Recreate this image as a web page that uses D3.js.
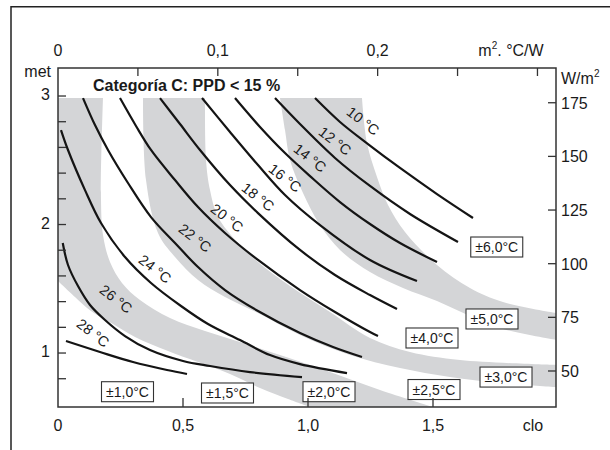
<!DOCTYPE html>
<html><head><meta charset="utf-8">
<script src="https://cdn.jsdelivr.net/npm/d3@7"></script>
<style>
body{margin:0;background:#fff}
svg{display:block}
text{font-family:"Liberation Sans",Arial,Helvetica,sans-serif;fill:#1a1a1a}
</style>
</head><body>
<svg id="chart" width="610" height="450"></svg>
<script>
// ---------------- data (clo, met) ----------------
const title = "Categoría C: PPD < 15 %";
const temps = [10, 12, 14, 16, 18, 20, 22, 24, 26, 28];
const c10 = [[1.028,2.984],[1.128,2.798],[1.24,2.626],[1.368,2.44],[1.516,2.237],[1.66,2.051]];
const c12 = [[0.868,2.984],[0.968,2.782],[1.108,2.518],[1.248,2.30],[1.408,2.082],[1.6,1.864]];
const c14 = [[0.708,2.984],[0.808,2.759],[0.908,2.556],[1.008,2.377],[1.128,2.175],[1.248,2.004],[1.368,1.856],[1.516,1.708]];
const c16 = [[0.576,2.984],[0.688,2.72],[0.8,2.463],[0.908,2.23],[1.048,1.996],[1.248,1.724],[1.436,1.56]];
const c18 = [[0.408,2.984],[0.488,2.782],[0.568,2.58],[0.688,2.307],[0.8,2.089],[0.968,1.802],[1.108,1.607],[1.248,1.451],[1.356,1.342]];
const c20 = [[0.248,2.984],[0.312,2.767],[0.372,2.58],[0.468,2.346],[0.56,2.136],[0.668,1.934],[0.8,1.724],[0.968,1.49],[1.108,1.319],[1.248,1.163],[1.28,1.132]];
const c22 = [[0.1,2.984],[0.148,2.774],[0.2,2.58],[0.28,2.323],[0.372,2.058],[0.468,1.856],[0.56,1.669],[0.668,1.49],[0.8,1.327],[0.968,1.156],[1.1,1.047],[1.216,0.969]];
const c24 = [[0.012,2.735],[0.04,2.58],[0.108,2.268],[0.172,2.012],[0.268,1.747],[0.372,1.545],[0.492,1.366],[0.6,1.226],[0.728,1.101],[0.848,0.984],[0.968,0.914],[1.156,0.844]];
const c26 = [[0.019,1.856],[0.04,1.685],[0.08,1.521],[0.128,1.374],[0.188,1.257],[0.268,1.132],[0.368,1.023],[0.5,0.938],[0.608,0.899],[0.768,0.852],[0.976,0.813]];
const c28 = [[0.032,1.093],[0.168,1.008],[0.3,0.93],[0.436,0.868],[0.516,0.837]];
const curves = [c10, c12, c14, c16, c18, c20, c22, c24, c26, c28];
// curve label anchors (clo, met)
const curveLabelPos = [[1.22,2.805],[1.108,2.65],[1.008,2.518],[0.908,2.362],[0.8,2.214],[0.676,2.051],[0.548,1.895],[0.388,1.654],[0.232,1.42],[0.14,1.156]];

// shaded bands: upper-right edge and lower-left edge (clo, met)
const bandAUpper = [[0.18,2.984],[0.172,2.191],[0.18,1.918],[0.208,1.708],[0.256,1.545],[0.328,1.412],[0.448,1.272],[0.588,1.171],[0.728,1.086],[0.888,0.984],[1.088,0.852],[1.288,0.712],[1.5,0.58]];
const bandALower = [[0,1.56],[0.068,1.436],[0.132,1.327],[0.22,1.226],[0.308,1.125],[0.44,1.016],[0.56,0.93],[0.688,0.837],[0.808,0.728],[0.92,0.642],[1.008,0.58]];
const bandBUpper = [[0.588,2.984],[0.592,2.502],[0.608,2.268],[0.64,2.058],[0.72,1.856],[0.8,1.708],[0.928,1.521],[1.088,1.319],[1.248,1.117],[1.408,1.008],[1.608,0.946],[1.996,0.907]];
const bandBLower = [[0.34,2.984],[0.352,2.346],[0.4,1.934],[0.468,1.747],[0.56,1.568],[0.668,1.436],[0.8,1.311],[0.968,1.14],[1.168,0.984],[1.368,0.883],[1.568,0.813],[1.768,0.767],[1.996,0.735]];
const bandCUpper = [[1.216,2.984],[1.236,2.634],[1.276,2.37],[1.32,2.152],[1.388,1.942],[1.516,1.685],[1.648,1.506],[1.78,1.397],[1.996,1.311]];
const bandCLower = [[0.888,2.984],[0.908,2.735],[0.928,2.502],[0.98,2.245],[1.048,1.996],[1.128,1.802],[1.248,1.63],[1.38,1.506],[1.516,1.405],[1.648,1.288],[1.78,1.187],[1.996,1.101]];

// tolerance labels
const tolLabels = ["±1,0°C","±1,5°C","±2,0°C","±2,5°C","±3,0°C","±4,0°C","±5,0°C","±6,0°C"];
const tolPos = [[0.278,0.699],[0.678,0.689],[1.084,0.699],[1.504,0.716],[1.792,0.813],[1.496,1.117],[1.736,1.265],[1.755,1.825]];

// axes
const cloTicks = [0.5, 1.0, 1.5];
const cloLabels = [0, 0.5, 1.0, 1.5];
const resTicks = [0.05, 0.10, 0.15, 0.20, 0.25, 0.30];
const resLabels = [0, 0.1, 0.2];
const metTicks = [0.8, 1.0, 1.2, 1.4, 1.6, 1.8, 2.0, 2.2, 2.4, 2.6, 2.8, 3.0];
const metLabels = [1, 2, 3];
const wTicks = [50, 75, 100, 125, 150, 175];

// ---------------- drawing ----------------
const svg = d3.select("#chart");
const Lp = 58, Rp = 556, Tp = 68, Bp = 407;
const x = d3.scaleLinear().domain([0, 1.992]).range([Lp, Rp]);
const y = d3.scaleLinear().domain([0.58, 3.218]).range([Bp, Tp]);
const xTop = d3.scaleLinear().domain([0, 0.3116]).range([Lp, Rp]);
const yRight = d3.scaleLinear().domain([33.22, 191.19]).range([Bp, Tp]);
const loc = d3.formatLocale({decimal: ",", thousands: ".", grouping: [3], currency: ["", ""]});
const f1 = v => v === 0 ? "0" : loc.format(".1f")(v);

svg.append("rect").attr("width", 610).attr("height", 450).attr("fill", "#fff");
// outer border
svg.append("path").attr("d", "M11,450 L11,6.7 L610,6.7").attr("fill", "none").attr("stroke", "#222").attr("stroke-width", 1.5);

svg.append("clipPath").attr("id", "clip").append("rect")
  .attr("x", Lp).attr("y", Tp).attr("width", Rp - Lp).attr("height", Bp - Tp);

const edge = d3.line().x(d => x(d[0])).y(d => y(d[1])).curve(d3.curveCatmullRom.alpha(0.5));
function band(upper, lower, extra) {
  let p = edge(upper) + edge(lower.slice().reverse()).replace(/^M/, "L");
  (extra || []).forEach(e => { p += "L" + x(e[0]) + "," + y(e[1]); });
  return p + "Z";
}
const g = svg.append("g").attr("clip-path", "url(#clip)");
const bandFill = "#d4d5d7";
g.append("path").attr("d", band(bandAUpper, bandALower, [[0, 2.984]])).attr("fill", bandFill);
g.append("path").attr("d", band(bandBUpper, bandBLower)).attr("fill", bandFill);
g.append("path").attr("d", band(bandCUpper, bandCLower)).attr("fill", bandFill);

curves.forEach(c => {
  g.append("path").attr("d", edge(c)).attr("fill", "none")
    .attr("stroke", "#141414").attr("stroke-width", 2.2).attr("stroke-linecap", "butt");
});

// curve labels
temps.forEach((t, i) => {
  const p = curveLabelPos[i];
  svg.append("text")
    .attr("transform", `translate(${x(p[0])},${y(p[1])}) rotate(38)`)
    .attr("text-anchor", "middle").attr("dominant-baseline", "central")
    .attr("font-size", 14.5).text(`${t} °C`);
});

// tolerance boxes
tolLabels.forEach((t, i) => {
  const cx = x(tolPos[i][0]), cy = y(tolPos[i][1]);
  svg.append("rect").attr("x", cx - 26).attr("y", cy - 10).attr("width", 52).attr("height", 20)
    .attr("fill", "#fff").attr("stroke", "#333").attr("stroke-width", 1.1);
  svg.append("text").attr("x", cx).attr("y", cy).attr("text-anchor", "middle")
    .attr("dominant-baseline", "central").attr("font-size", 14).text(t);
});

// frame
svg.append("rect").attr("x", Lp).attr("y", Tp).attr("width", Rp - Lp).attr("height", Bp - Tp)
  .attr("fill", "none").attr("stroke", "#333").attr("stroke-width", 1.5);

function tick(x1, y1, x2, y2) {
  svg.append("line").attr("x1", x1).attr("y1", y1).attr("x2", x2).attr("y2", y2)
    .attr("stroke", "#333").attr("stroke-width", 1.3);
}
cloTicks.forEach(v => tick(x(v), Bp, x(v), Bp - 9));
resTicks.forEach(v => tick(xTop(v), Tp, xTop(v), Tp + 8));
metTicks.forEach(v => tick(Lp, y(v), Lp + 8, y(v)));
wTicks.forEach(v => tick(Rp, yRight(v), Rp - 8, yRight(v)));

const fs = 16;
cloLabels.forEach(v => svg.append("text").attr("x", x(v)).attr("y", 431).attr("text-anchor", "middle").attr("font-size", fs).text(f1(v)));
svg.append("text").attr("x", 533).attr("y", 431).attr("text-anchor", "middle").attr("font-size", fs).text("clo");
resLabels.forEach(v => svg.append("text").attr("x", xTop(v)).attr("y", 56).attr("text-anchor", "middle").attr("font-size", fs).text(f1(v)));
const u = svg.append("text").attr("x", 511).attr("y", 56).attr("text-anchor", "middle").attr("font-size", fs);
u.append("tspan").text("m");
u.append("tspan").attr("font-size", 10).attr("dy", -7).text("2");
u.append("tspan").attr("dy", 7).text(". °C/W");
metLabels.forEach(v => svg.append("text").attr("x", 50).attr("y", y(v) + 4).attr("text-anchor", "end").attr("font-size", fs).text(v));
svg.append("text").attr("x", 51).attr("y", 77).attr("text-anchor", "end").attr("font-size", fs).text("met");
wTicks.forEach(v => svg.append("text").attr("x", 561).attr("y", yRight(v) + 6).attr("font-size", fs).text(v));
const wu = svg.append("text").attr("x", 561).attr("y", 84).attr("font-size", fs);
wu.append("tspan").text("W/m");
wu.append("tspan").attr("font-size", 10).attr("dy", -7).text("2");

svg.append("text").attr("x", 93).attr("y", 91).attr("font-size", 16).attr("font-weight", "bold").text(title);
</script>
</body></html>
